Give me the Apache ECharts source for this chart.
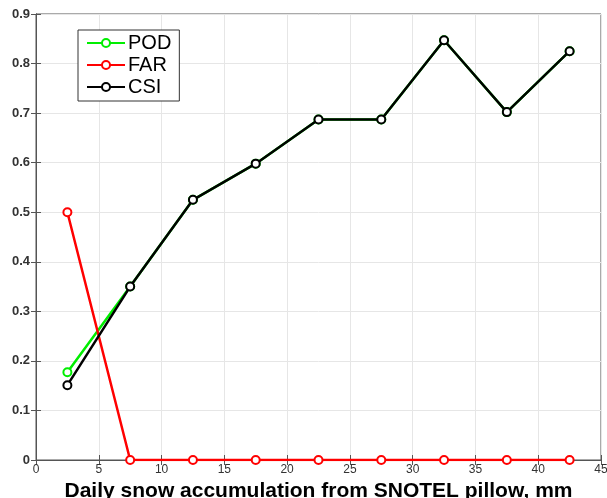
<!DOCTYPE html>
<html><head><meta charset="utf-8">
<script src="https://cdn.jsdelivr.net/npm/echarts@6/dist/echarts.min.js"></script>
<style>html,body{margin:0;padding:0;background:#fff}#c{width:607px;height:498px}</style>
</head><body><div id="c"></div>
<script>
const xValues = [2.5, 7.5, 12.5, 17.5, 22.5, 27.5, 32.5, 37.5, 42.5];
const pod = [0.177, 0.35, 0.525, 0.598, 0.687, 0.687, 0.847, 0.702, 0.825];
const far = [0.5, 0, 0, 0, 0, 0, 0, 0, 0];
const csi = [0.151, 0.35, 0.525, 0.598, 0.687, 0.687, 0.847, 0.702, 0.825];
const xLabel = 'Daily snow accumulation from SNOTEL pillow, mm';

const font = '"Liberation Sans", Arial, Helvetica, sans-serif';
const pair = a => xValues.map((x, i) => [x, a[i]]);
const mk = (name, color, data, z) => ({
  name, type: 'line', data: pair(data), z,
  symbol: 'circle', symbolSize: 8, showSymbol: true,
  lineStyle: { color, width: 2.5 },
  itemStyle: { color: '#fff', borderColor: color, borderWidth: 2 },
  emphasis: { disabled: true }, animation: false
});
const chart = echarts.init(document.getElementById('c'));
chart.setOption({
  animation: false,
  backgroundColor: '#fff',
  grid: { left: 36, right: 6, top: 14, bottom: 38, show: true, borderColor: '#555', borderWidth: 1,
    backgroundColor: 'transparent', containLabel: false, outerBoundsMode: 'none' },
  legend: {
    left: 78, top: 30, orient: 'vertical', itemGap: 2,
    padding: [3, 8, 4, 8],
    borderColor: '#333', borderWidth: 1, backgroundColor: '#fff',
    itemWidth: 38, itemHeight: 10,
    textStyle: { fontFamily: font, fontSize: 20, color: '#000', padding: [0, 0, 0, -2] },
    data: ['POD', 'FAR', 'CSI']
  },
  xAxis: [{
    type: 'value', min: 0, max: 45, interval: 5,
    name: xLabel, nameLocation: 'middle', nameGap: 19,
    nameTextStyle: { fontFamily: font, fontSize: 21, fontWeight: 'bold', color: '#000' },
    axisLine: { show: true, lineStyle: { color: '#555' } },
    axisTick: { show: true, inside: true, length: 5, lineStyle: { color: '#555' } },
    axisLabel: { fontFamily: font, fontSize: 12, color: '#333', margin: 4 },
    splitLine: { show: true, lineStyle: { color: '#e6e6e6' } }
  }, {
    type: 'value', min: 0, max: 45, interval: 5, position: 'top',
    axisLine: { show: true, lineStyle: { color: '#555' } },
    axisTick: { show: true, inside: true, length: 5, lineStyle: { color: '#555' } },
    axisLabel: { show: false }, splitLine: { show: false }
  }],
  yAxis: [{
    type: 'value', min: 0, max: 0.9, interval: 0.1,
    axisLine: { show: true, lineStyle: { color: '#555' } },
    axisTick: { show: true, inside: true, length: 5, lineStyle: { color: '#555' } },
    axisLabel: { fontFamily: font, fontSize: 13, color: '#333', margin: 6, fontWeight: 'bold',
      formatter: v => v === 0 ? '0' : v.toFixed(1) },
    splitLine: { show: true, lineStyle: { color: '#e6e6e6' } }
  }, {
    type: 'value', min: 0, max: 0.9, interval: 0.1, position: 'right',
    axisLine: { show: true, lineStyle: { color: '#555' } },
    axisTick: { show: true, inside: true, length: 5, lineStyle: { color: '#555' } },
    axisLabel: { show: false }, splitLine: { show: false }
  }],
  series: [
    mk('POD', '#00ee00', pod, 2),
    mk('FAR', '#ff0000', far, 3),
    mk('CSI', '#000000', csi, 4)
  ]
});
</script></body></html>
